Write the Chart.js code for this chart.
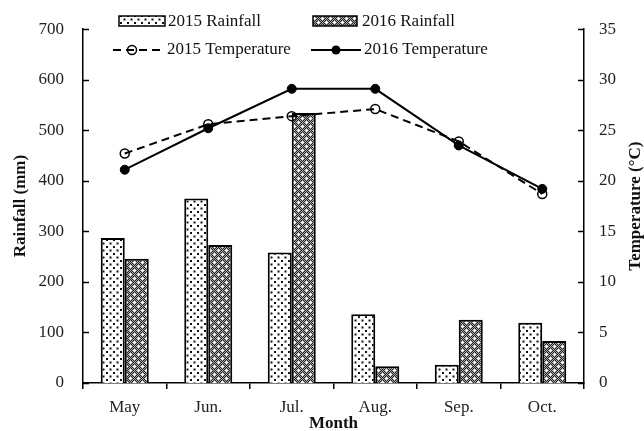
<!DOCTYPE html>
<html>
<head>
<meta charset="utf-8">
<script src="https://cdn.jsdelivr.net/npm/chart.js@4"></script>
<style>
  html, body { margin: 0; padding: 0; background: #fff; }
  canvas { display: block; }
</style>
</head>
<body>
<canvas id="chart" width="644" height="431"></canvas>
<script>
const months = ["May", "Jun.", "Jul.", "Aug.", "Sep.", "Oct."];
const rain2015 = [287, 365, 258, 136, 36, 119];
const rain2016 = [246, 273, 534, 33, 125, 83];
const temp2015 = [22.7, 25.6, 26.4, 27.1, 23.9, 18.7];
const temp2016 = [21.1, 25.2, 29.1, 29.1, 23.5, 19.2];
const rainTicks = { min: 0, max: 700, step: 100 };
const tempTicks = { min: 0, max: 35, step: 5 };

const FONT = "'Liberation Serif', 'Times New Roman', serif";
const ctx = document.getElementById("chart").getContext("2d");

// dotted fill for 2015 rainfall
function dotPattern() {
  const c = document.createElement("canvas");
  c.width = 7; c.height = 7;
  const g = c.getContext("2d");
  g.fillStyle = "#fff";
  g.fillRect(0, 0, 7, 7);
  g.fillStyle = "#111";
  g.fillRect(1, 1, 2, 2);
  g.fillRect(4.5, 4.5, 2, 2);
  return ctx.createPattern(c, "repeat");
}

// dark checker with white crosses for 2016 rainfall
function crossPattern() {
  const c = document.createElement("canvas");
  c.width = 8; c.height = 8;
  const g = c.getContext("2d");
  for (let y = 0; y < 8; y++) {
    for (let x = 0; x < 8; x++) {
      g.fillStyle = (x + y) % 2 ? "#222" : "#a8a8a8";
      g.fillRect(x, y, 1, 1);
    }
  }
  g.fillStyle = "#fff";
  [[2, 2], [6, 6]].forEach(([x, y]) => {
    g.fillRect(x - 1, y, 3, 1);
    g.fillRect(x, y - 1, 1, 3);
  });
  return ctx.createPattern(c, "repeat");
}

const fill2015 = dotPattern();
const fill2016 = crossPattern();

// inward ticks on both value axes, titles and the legend
const extras = {
  id: "extras",
  afterDraw(chart) {
    const c = chart.ctx;
    const y = chart.scales.y;
    const y1 = chart.scales.y1;
    const area = chart.chartArea;
    c.save();
    c.strokeStyle = "#000";
    c.lineWidth = 1.5;
    y.ticks.forEach((t) => {
      const py = Math.round(y.getPixelForValue(t.value)) + 0.5;
      c.beginPath(); c.moveTo(area.left, py); c.lineTo(area.left + 6, py); c.stroke();
    });
    y1.ticks.forEach((t) => {
      const py = Math.round(y1.getPixelForValue(t.value)) + 0.5;
      c.beginPath(); c.moveTo(area.right, py); c.lineTo(area.right - 6, py); c.stroke();
    });

    // axis titles
    c.fillStyle = "#111";
    c.font = "bold 17px " + FONT;
    c.textAlign = "center";
    c.textBaseline = "middle";
    const midY = (area.top + area.bottom) / 2;
    c.save(); c.translate(21, midY); c.rotate(-Math.PI / 2); c.fillText("Rainfall (mm)", 0, 0); c.restore();
    c.save(); c.translate(636, midY); c.rotate(-Math.PI / 2); c.fillText("Temperature (°C)", 0, 0); c.restore();
    c.fillText("Month", (area.left + area.right) / 2, 424);

    // legend
    c.font = "17px " + FONT;
    c.textAlign = "left";
    c.lineWidth = 1.5;
    c.fillStyle = fill2015; c.fillRect(119, 16, 46, 10); c.strokeRect(119, 16, 46, 10);
    c.fillStyle = fill2016; c.fillRect(313, 16, 44, 10); c.strokeRect(313, 16, 44, 10);
    c.fillStyle = "#111";
    c.fillText("2015 Rainfall", 168, 22);
    c.fillText("2016 Rainfall", 362, 22);

    c.lineWidth = 2;
    c.setLineDash([8, 5]);
    c.beginPath(); c.moveTo(113, 50); c.lineTo(164, 50); c.stroke();
    c.setLineDash([]);
    c.lineWidth = 1.5;
    c.beginPath(); c.arc(132, 50, 4.5, 0, Math.PI * 2); c.stroke();
    c.lineWidth = 2;
    c.beginPath(); c.moveTo(311, 50); c.lineTo(361, 50); c.stroke();
    c.fillStyle = "#000";
    c.beginPath(); c.arc(336, 50, 4.5, 0, Math.PI * 2); c.fill();
    c.fillStyle = "#111";
    c.fillText("2015 Temperature", 167, 50);
    c.fillText("2016 Temperature", 364, 50);
    c.restore();
  }
};

new Chart(ctx, {
  type: "bar",
  data: {
    labels: months,
    datasets: [
      {
        type: "line", label: "2015 Temperature", data: temp2015, yAxisID: "y1", order: 0,
        borderColor: "#000", borderWidth: 2, borderDash: [8, 5],
        pointRadius: 4.5, pointBorderWidth: 1.5, pointBorderColor: "#000",
        pointBackgroundColor: "rgba(0,0,0,0)", tension: 0, fill: false
      },
      {
        type: "line", label: "2016 Temperature", data: temp2016, yAxisID: "y1", order: 0,
        borderColor: "#000", borderWidth: 2,
        pointRadius: 4.5, pointBorderWidth: 1, pointBorderColor: "#000",
        pointBackgroundColor: "#000", tension: 0, fill: false
      },
      {
        label: "2015 Rainfall", data: rain2015, yAxisID: "y", order: 1,
        backgroundColor: fill2015, borderColor: "#000", borderWidth: 2,
        categoryPercentage: 0.575, barPercentage: 1
      },
      {
        label: "2016 Rainfall", data: rain2016, yAxisID: "y", order: 1,
        backgroundColor: fill2016, borderColor: "#000", borderWidth: 2,
        categoryPercentage: 0.575, barPercentage: 1
      }
    ]
  },
  options: {
    responsive: false,
    animation: false,
    devicePixelRatio: 1,
    layout: { padding: { top: 29, left: 0, right: 0, bottom: 0 } },
    plugins: { legend: { display: false }, tooltip: { enabled: false } },
    scales: {
      x: {
        afterFit: (s) => { s.height = 48; },
        grid: { offset: true, drawOnChartArea: false, tickLength: 6, color: "#000", lineWidth: 1.5 },
        border: { display: true, color: "#000", width: 1.5 },
        ticks: { color: "#222", font: { family: FONT, size: 17 }, padding: 8 }
      },
      y: {
        position: "left",
        min: rainTicks.min, max: rainTicks.max,
        afterFit: (s) => { s.width = 83; },
        grid: { display: false, drawTicks: false },
        border: { display: true, color: "#000", width: 1.5 },
        ticks: { stepSize: rainTicks.step, color: "#222", font: { family: FONT, size: 17 }, padding: 19 }
      },
      y1: {
        position: "right",
        min: tempTicks.min, max: tempTicks.max,
        afterFit: (s) => { s.width = 60; },
        grid: { display: false, drawTicks: false },
        border: { display: true, color: "#000", width: 1.5 },
        ticks: { stepSize: tempTicks.step, color: "#222", font: { family: FONT, size: 17 }, padding: 15 }
      }
    }
  },
  plugins: [extras]
});
</script>
</body>
</html>
